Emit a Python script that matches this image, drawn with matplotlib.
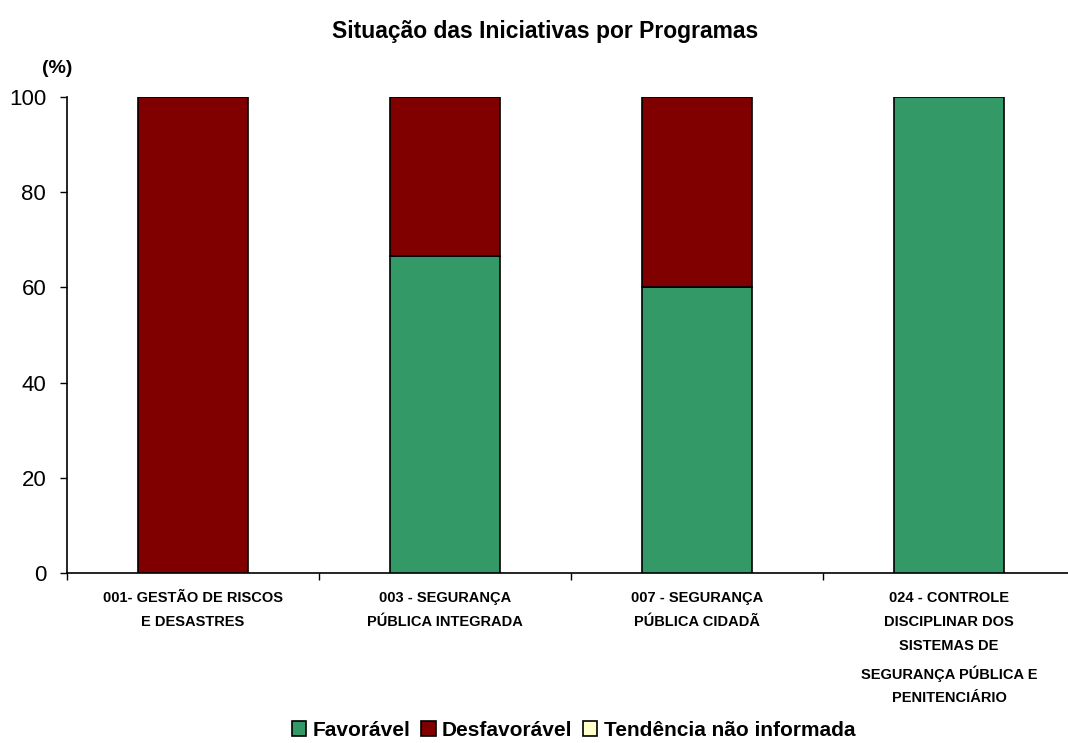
import matplotlib
matplotlib.use("Agg")
import matplotlib.pyplot as plt
import numpy as np
from matplotlib.patches import Patch

plt.rcParams["font.family"] = ["Liberation Sans", "DejaVu Sans"]

# ── Data ────────────────────────────────────────────────────────────────
programas = [
    "001- GESTÃO DE RISCOS\nE DESASTRES",
    "003 - SEGURANÇA\nPÚBLICA INTEGRADA",
    "007 - SEGURANÇA\nPÚBLICA CIDADÃ",
    "024 - CONTROLE\nDISCIPLINAR DOS\nSISTEMAS DE\nSEGURANÇA PÚBLICA E\nPENITENCIÁRIO",
]
favoravel = [0.0, 66.7, 60.0, 100.0]
desfavoravel = [100.0, 33.3, 40.0, 0.0]
nao_informada = [0.0, 0.0, 0.0, 0.0]

series = ["Favorável", "Desfavorável", "Tendência não informada"]
cores = ["#339966", "#800000", "#FFFFCC"]

# ── Figure ──────────────────────────────────────────────────────────────
fig = plt.figure(figsize=(10.68, 7.43), dpi=100)
ax = fig.add_axes([0.0627, 0.2288, 0.9440, 0.6406])

x = np.arange(len(programas))
largura = 0.437
base = np.zeros(len(programas))
for nome, valores, cor in zip(series, [favoravel, desfavoravel, nao_informada], cores):
    v = np.array(valores)
    mask = v > 0
    ax.bar(x[mask], v[mask], largura, bottom=base[mask], color=cor,
           edgecolor="black", linewidth=1.2, zorder=3)
    base += v

ax.set_xlim(-0.5, len(programas) - 0.5)
ax.set_ylim(0, 100)
ax.set_yticks([0, 20, 40, 60, 80, 100])
ax.tick_params(axis="y", labelsize=16, length=5, width=1, direction="out", pad=10)

# category boundaries get the ticks, names sit centred between them
ax.set_xticks(np.arange(-0.5, len(programas), 1.0))
ax.set_xticklabels([])
ax.tick_params(axis="x", length=5, width=1, direction="out")
for xi, nome in zip(x, programas):
    ax.text(xi, -3.8, nome, ha="center", va="top", fontsize=10.5,
            fontweight="bold", linespacing=1.9, transform=ax.transData)

for s in ["top", "right"]:
    ax.spines[s].set_visible(False)
for s in ["left", "bottom"]:
    ax.spines[s].set_linewidth(1.2)

fig.text(0.51, 0.958, "Situação das Iniciativas por Programas", ha="center",
         va="center", fontsize=16.5, fontweight="bold")
fig.text(0.054, 0.908, "(%)", ha="center", va="center", fontsize=14,
         fontweight="bold")

handles = [Patch(facecolor=c, edgecolor="black", linewidth=1.2) for c in cores]
fig.legend(handles, series, loc="center", bbox_to_anchor=(0.537, 0.017),
           ncol=3, frameon=False, prop={"weight": "bold", "size": 15},
           handlelength=0.7, handleheight=0.7, handletextpad=0.3,
           columnspacing=0.5)

fig.savefig("out.png", dpi=100)
